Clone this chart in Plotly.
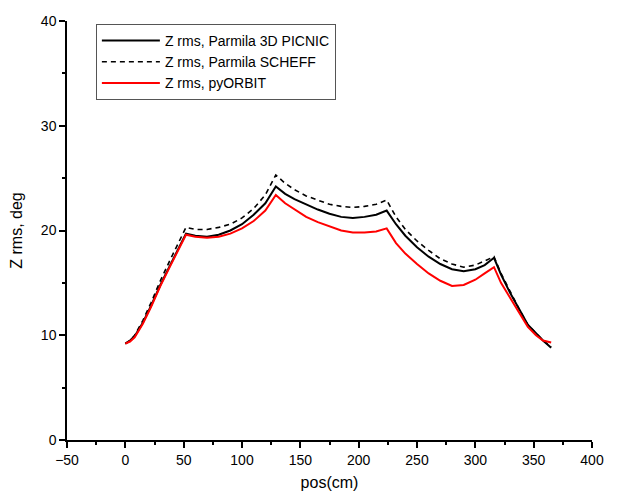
import plotly.graph_objects as go

# position along the linac, cm
pos_picnic = [0, 4, 8, 15, 22, 30, 38, 46, 52, 60, 70, 80, 90, 100, 110, 120, 129,
              137, 145, 155, 165, 175, 185, 195, 205, 215, 224,
              232, 240, 250, 260, 270, 280, 290, 300, 308, 316,
              322, 330, 338, 345, 352, 358, 365]
z_picnic = [9.2, 9.5, 9.9, 11.2, 12.8, 14.8, 16.6, 18.4, 19.7, 19.5, 19.4, 19.6, 20.0, 20.6, 21.5, 22.6, 24.2,
            23.5, 23.0, 22.5, 22.0, 21.6, 21.3, 21.2, 21.3, 21.5, 21.9,
            20.6, 19.5, 18.4, 17.5, 16.8, 16.3, 16.1, 16.3, 16.7, 17.4,
            15.8, 14.0, 12.4, 11.0, 10.2, 9.5, 8.8]

pos_scheff = [0, 4, 8, 15, 22, 30, 38, 46, 52, 60, 70, 80, 90, 100, 110, 120, 129,
              137, 145, 155, 165, 175, 185, 195, 205, 215, 224,
              232, 240, 250, 260, 270, 280, 290, 300, 308, 316,
              322, 330, 338, 345, 352, 358, 365]
z_scheff = [9.2, 9.5, 10.0, 11.4, 13.1, 15.2, 17.1, 19.0, 20.3, 20.1, 20.1, 20.3, 20.6, 21.2, 22.1, 23.4, 25.3,
            24.5, 23.9, 23.3, 22.9, 22.5, 22.3, 22.2, 22.3, 22.5, 22.9,
            21.3, 20.1, 19.0, 18.1, 17.3, 16.8, 16.5, 16.7, 17.1, 17.5,
            15.9, 14.1, 12.4, 11.0, 10.2, 9.5, 8.9]

pos_orbit = [0, 4, 8, 15, 22, 30, 38, 46, 52, 60, 70, 80, 90, 100, 110, 120, 129,
             137, 145, 155, 165, 175, 185, 195, 205, 215, 224,
             232, 240, 250, 260, 270, 280, 290, 300, 308, 316,
             322, 330, 338, 345, 352, 358, 365]
z_orbit = [9.2, 9.4, 9.8, 11.1, 12.7, 14.7, 16.5, 18.3, 19.6, 19.4, 19.3, 19.4, 19.7, 20.2, 20.9, 21.9, 23.4,
           22.6, 22.0, 21.3, 20.8, 20.4, 20.0, 19.8, 19.8, 19.9, 20.2,
           18.8, 17.8, 16.8, 15.9, 15.2, 14.7, 14.8, 15.3, 15.9, 16.5,
           15.0, 13.5, 12.0, 10.8, 10.0, 9.5, 9.3]

fig = go.Figure()
fig.add_trace(go.Scatter(x=pos_picnic, y=z_picnic, mode='lines',
                         name='Z rms, Parmila 3D PICNIC',
                         line=dict(color='black', width=2)))
fig.add_trace(go.Scatter(x=pos_scheff, y=z_scheff, mode='lines',
                         name='Z rms, Parmila SCHEFF',
                         line=dict(color='black', width=1.6, dash='5px,4px')))
fig.add_trace(go.Scatter(x=pos_orbit, y=z_orbit, mode='lines',
                         name='Z rms, pyORBIT',
                         line=dict(color='red', width=2)))

# page body has an 8px margin, so the figure is a bit smaller and margins shifted
axis_font = dict(family='Arial, Liberation Sans', size=14, color='black')
fig.update_layout(
    width=615, height=490,
    margin=dict(l=59, r=31, t=5, b=58),
    plot_bgcolor='white', paper_bgcolor='white',
    font=axis_font,
    showlegend=True,
    legend=dict(x=0.055, y=0.993, xanchor='left', yanchor='top',
                bordercolor='#555555', borderwidth=1, bgcolor='white',
                font=dict(family='Arial, Liberation Sans', size=14, color='black'),
                tracegroupgap=0, itemwidth=58),
)
fig.update_xaxes(range=[-50, 400], tickvals=list(range(-50, 401, 50)),
                 ticks='outside', ticklen=6, tickwidth=1.5, tickcolor='black',
                 minor=dict(tickvals=list(range(-25, 400, 50)), ticks='outside',
                            ticklen=3, tickwidth=1.5, tickcolor='black'),
                 showline=True, linecolor='black', linewidth=1.5,
                 showgrid=False, zeroline=False,
                 title=dict(text='pos(cm)', font=dict(size=16), standoff=10))
fig.update_yaxes(range=[0, 40], tickvals=list(range(0, 41, 10)),
                 ticks='outside', ticklen=6, tickwidth=1.5, tickcolor='black',
                 minor=dict(tickvals=list(range(5, 40, 10)), ticks='outside',
                            ticklen=3, tickwidth=1.5, tickcolor='black'),
                 showline=True, linecolor='black', linewidth=1.5,
                 showgrid=False, zeroline=False, ticklabeloverflow='allow',
                 title=dict(text='Z rms, deg', font=dict(size=16), standoff=14))

fig.write_html("out.html")
